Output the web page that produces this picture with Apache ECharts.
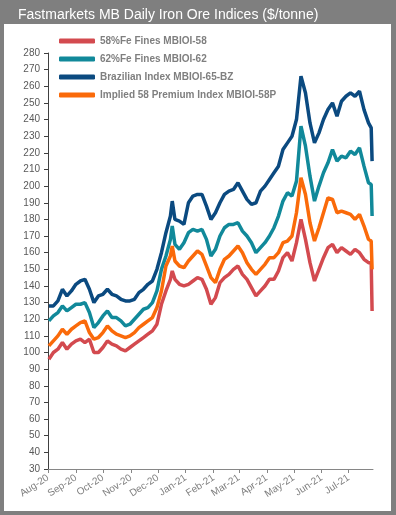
<!DOCTYPE html>
<html lang="en">
  <head>
    <meta charset="UTF-8" />
    <title>Fastmarkets MB Daily Iron Ore Indices</title>
    <script src="https://cdn.jsdelivr.net/npm/echarts@6/dist/echarts.min.js"></script>
    <style>
      body {
        margin: 0;
        background: #fff;
      }
      #chart {
        width: 396px;
        height: 515px;
      }
    </style>
  </head>
  <body>
    <div id="chart"></div>
    <script>
      const dates = [
        "2020-08-02", "2020-08-07", "2020-08-12", "2020-08-17", "2020-08-22",
        "2020-08-27", "2020-09-01", "2020-09-06", "2020-09-11", "2020-09-16",
        "2020-09-21", "2020-09-26", "2020-10-01", "2020-10-06", "2020-10-11",
        "2020-10-16", "2020-10-21", "2020-10-26", "2020-10-31", "2020-11-05",
        "2020-11-10", "2020-11-15", "2020-11-20", "2020-11-25", "2020-11-30",
        "2020-12-05", "2020-12-10", "2020-12-15", "2020-12-17", "2020-12-20",
        "2020-12-25", "2020-12-30", "2021-01-04", "2021-01-09", "2021-01-14",
        "2021-01-19", "2021-01-24", "2021-01-29", "2021-02-03", "2021-02-08",
        "2021-02-13", "2021-02-18", "2021-02-23", "2021-02-28", "2021-03-05",
        "2021-03-10", "2021-03-15", "2021-03-20", "2021-03-25", "2021-03-30",
        "2021-04-04", "2021-04-09", "2021-04-14", "2021-04-19", "2021-04-24",
        "2021-04-29", "2021-05-04", "2021-05-09", "2021-05-14", "2021-05-19",
        "2021-05-24", "2021-05-29", "2021-06-03", "2021-06-08", "2021-06-13",
        "2021-06-18", "2021-06-23", "2021-06-28", "2021-07-03", "2021-07-08",
        "2021-07-13", "2021-07-18", "2021-07-23", "2021-07-26", "2021-07-27",
      ];

      const fines58 = [
        96, 100, 102, 106, 102, 105, 107, 108, 106, 108,
        100, 100, 103, 107, 105, 104, 102, 101, 103, 105,
        107, 109, 111, 113, 117, 129, 137, 144, 149, 144,
        141, 140, 141, 143, 145, 144, 138, 129, 133, 142,
        145, 147, 150, 152, 147, 144, 139, 134, 137, 140,
        144, 144, 149, 157, 160, 155, 166, 180, 168, 154,
        143, 150, 157, 163, 165, 160, 163, 161, 159, 162,
        160, 156, 154, 154, 125,
      ];

      const fines62 = [
        119, 122, 124, 128, 125, 127, 129, 129, 130, 124,
        115, 118, 122, 125, 121, 121, 119, 116, 117, 120,
        123, 126, 127, 130, 137, 150, 158, 168, 176, 165,
        162, 166, 172, 174, 173, 174, 168, 158, 162, 170,
        175, 177, 177, 178, 173, 170, 166, 160, 163, 166,
        170, 175, 182, 191, 196, 194, 203, 236, 224, 206,
        191, 200, 208, 214, 222, 215, 218, 217, 221, 219,
        223, 212, 202, 201, 182,
      ];

      const brazil65 = [
        128, 128, 131, 138, 134, 137, 141, 143, 144, 138,
        130, 134, 135, 138, 135, 134, 132, 131, 131, 132,
        136, 138, 141, 143, 150, 160, 172, 182, 191, 180,
        179, 177, 190, 194, 195, 195, 188, 180, 184, 190,
        195, 197, 198, 202, 197, 192, 189, 190, 197, 200,
        204, 208, 212, 222, 226, 230, 240, 266, 256, 238,
        226, 232, 240, 246, 250, 242, 251, 254, 256, 254,
        257, 246, 238, 235, 215,
      ];

      const premium58 = [
        104, 107, 110, 114, 111, 114, 116, 118, 119, 112,
        108, 109, 112, 116, 113, 111, 110, 109, 110, 112,
        115, 117, 119, 121, 127, 137, 152, 158, 164, 155,
        152, 151, 155, 158, 161, 159, 152, 145, 142, 150,
        156, 158, 161, 164, 160, 154, 150, 147, 150, 153,
        157, 157, 160, 166, 167, 170, 184, 205, 195, 178,
        167, 175, 184, 193, 192, 184, 185, 184, 183, 180,
        183, 176, 168, 167, 150,
      ];

      const seriesNames = [
        "58%Fe Fines MBIOI-58",
        "62%Fe Fines MBIOI-62",
        "Brazilian Index MBIOI-65-BZ",
        "Implied 58 Premium Index MBIOI-58P",
      ];
      const seriesColors = ["#d34a4f", "#11899a", "#0b4a80", "#fa6a0a"];
      const seriesValues = [fines58, fines62, brazil65, premium58];

      const xLabels = [
        "Aug-20", "Sep-20", "Oct-20", "Nov-20", "Dec-20", "Jan-21",
        "Feb-21", "Mar-21", "Apr-21", "May-21", "Jun-21", "Jul-21",
      ];

      const DAY = 24 * 3600 * 1000;
      const chart = echarts.init(document.getElementById("chart"));

      const option = {
        animation: false,
        graphic: [
          {
            type: "rect",
            left: 0,
            top: 0,
            shape: { width: 396, height: 515 },
            style: { fill: "#7f7f7f" },
            z: -10,
          },
          {
            type: "rect",
            left: 4,
            top: 24,
            shape: { width: 387, height: 487 },
            style: { fill: "#ffffff" },
            z: -9,
          },
        ],
        title: {
          text: "Fastmarkets MB Daily Iron Ore Indices ($/tonne)",
          left: 13,
          top: 3,
          textStyle: {
            color: "#ffffff",
            fontSize: 14,
            fontWeight: "normal",
            fontFamily: "Liberation Sans",
          },
        },
        legend: {
          orient: "vertical",
          left: 54,
          top: 31,
          itemWidth: 36,
          itemHeight: 5,
          itemGap: 8,
          icon: "roundRect",
          textStyle: {
            color: "#7f7f7f",
            fontSize: 10,
            fontWeight: "bold",
            fontFamily: "Liberation Sans",
          },
          data: seriesNames,
        },
        grid: { left: 48, right: 23, top: 53, bottom: 46 },
        xAxis: {
          type: "time",
          min: "2020-08-01",
          max: "2021-07-28",
          splitNumber: 12,
          minInterval: 28 * DAY,
          maxInterval: 31 * DAY,
          axisLine: { lineStyle: { color: "#868686" } },
          axisTick: { show: true, length: 4, lineStyle: { color: "#868686" } },
          splitLine: { show: false },
          axisLabel: {
            rotate: 33,
            color: "#7f7f7f",
            fontSize: 10,
            fontFamily: "Liberation Sans",
            showMaxLabel: false,
            formatter: (value) => {
              const d = new Date(value);
              const idx = (d.getFullYear() - 2020) * 12 + d.getMonth() - 7;
              return xLabels[idx] || "";
            },
          },
        },
        yAxis: {
          type: "value",
          min: 30,
          max: 280,
          interval: 10,
          axisLine: { show: true, lineStyle: { color: "#404040" } },
          axisTick: { show: true, length: 4, lineStyle: { color: "#404040" } },
          splitLine: { show: false },
          axisLabel: {
            color: "#595959",
            fontSize: 10,
            fontFamily: "Liberation Sans",
          },
        },
        series: seriesNames.map((name, i) => ({
          name: name,
          type: "line",
          showSymbol: false,
          color: seriesColors[i],
          lineStyle: { width: 3.5, color: seriesColors[i] },
          data: dates.map((d, j) => [d, seriesValues[i][j]]),
        })),
      };

      chart.setOption(option);
    </script>
  </body>
</html>
